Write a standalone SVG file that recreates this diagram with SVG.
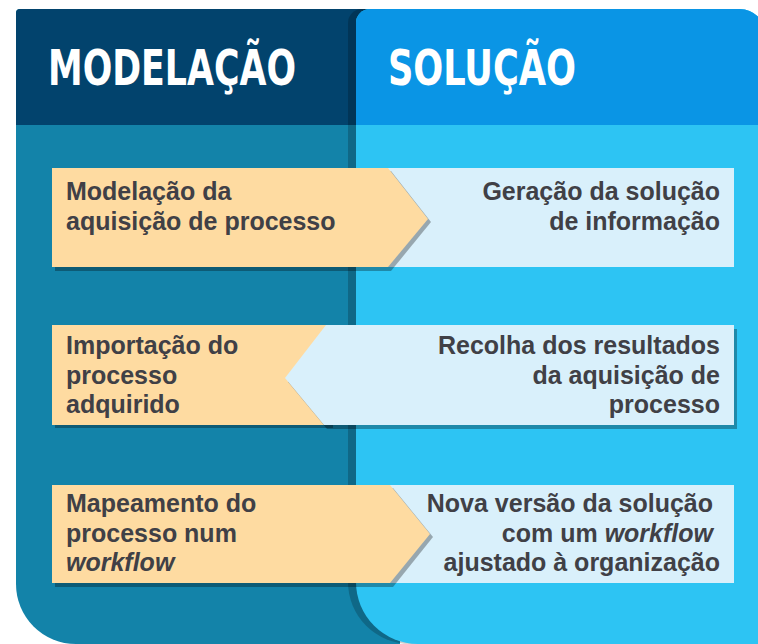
<svg xmlns="http://www.w3.org/2000/svg" width="758" height="644" viewBox="0 0 758 644">
<defs>
<style>
.hdr{font-family:"DejaVu Sans Condensed","DejaVu Sans","Liberation Sans",sans-serif;font-weight:bold;font-size:50px;fill:#ffffff}
.t{font-family:"Liberation Sans",Arial,sans-serif;font-weight:bold;font-size:25px;fill:#404046}
.r{text-anchor:end}
.i{font-style:italic}
.peach{fill:#FEDBA1}
.lblue{fill:#D9F0FB}
.sh{fill:#000;opacity:0.3}
</style>
</defs>
<rect width="758" height="644" fill="#ffffff"/>
<g id="panel-modelacao">
<path d="M16,13 Q16,9 20,9 H400 V644 H76 A60,60 0 0 1 16,584 Z" fill="#1383A9"/>
<path d="M16,13 Q16,9 20,9 H400 V125 H16 Z" fill="#02436D"/>
</g>
<g id="panel-solucao">
<path d="M348,23 A14,14 0 0 1 362,9 H732 A25,25 0 0 1 757,34 V644 H410 A62,62 0 0 1 348,582 Z" fill="#000" opacity="0.2"/>
<path d="M356,23 A14,14 0 0 1 370,9 H740 A25,25 0 0 1 765,34 V644 H418 A62,62 0 0 1 356,582 Z" fill="#2DC4F3"/>
<path d="M356,23 A14,14 0 0 1 370,9 H740 A25,25 0 0 1 765,34 V125 H356 Z" fill="#0A95E5"/>
</g>
<g id="header-modelacao"><text class="hdr" x="48" y="85" textLength="248" lengthAdjust="spacingAndGlyphs">MODELAÇÃO</text></g>
<g id="header-solucao"><text class="hdr" x="388" y="85" textLength="188" lengthAdjust="spacingAndGlyphs">SOLUÇÃO</text></g>

<g id="row1">
<g id="node-geracao">
<rect class="lblue" x="388" y="168" width="346" height="99"/>
<text class="t r" x="720" y="200">Geração da solução</text>
<text class="t r" x="720" y="230">de informação</text>
</g>
<g id="node-modelacao-aquisicao">
<polygon class="sh" points="55,171 391,171 431,222 391,271 55,271"/>
<polygon class="peach" points="52,168 388,168 428,219 388,267 52,267"/>
<text class="t" x="66" y="200">Modelação da</text>
<text class="t" x="66" y="230">aquisição de processo</text>
</g>
</g>

<g id="row2">
<g id="node-importacao">
<rect class="sh" x="55" y="328" width="278" height="100"/>
<rect class="peach" x="52" y="325" width="278" height="100"/>
<text class="t" x="66" y="354">Importação do</text>
<text class="t" x="66" y="384">processo</text>
<text class="t" x="66" y="413">adquirido</text>
</g>
<g id="node-recolha">
<polygon class="sh" points="329,329 737,329 737,429 327,429 288,382"/>
<polygon class="lblue" points="326,325 734,325 734,425 324,425 285,378"/>
<text class="t r" x="720" y="354">Recolha dos resultados</text>
<text class="t r" x="720" y="384">da aquisição de</text>
<text class="t r" x="720" y="413">processo</text>
</g>
</g>

<g id="row3">
<g id="node-nova-versao">
<rect class="lblue" x="388" y="485" width="346" height="98"/>
<text class="t r" x="713" y="512">Nova versão da solução</text>
<text class="t r" x="713" y="542">com um <tspan class="i">workflow</tspan></text>
<text class="t r" x="720" y="571">ajustado à organização</text>
</g>
<g id="node-mapeamento">
<polygon class="sh" points="55,488 393,488 433,537 393,587 55,587"/>
<polygon class="peach" points="52,485 390,485 430,534 390,583 52,583"/>
<text class="t" x="66" y="512">Mapeamento do</text>
<text class="t" x="66" y="542">processo num</text>
<text class="t i" x="66" y="571">workflow</text>
</g>
</g>
<g id="connectors"></g>
</svg>
